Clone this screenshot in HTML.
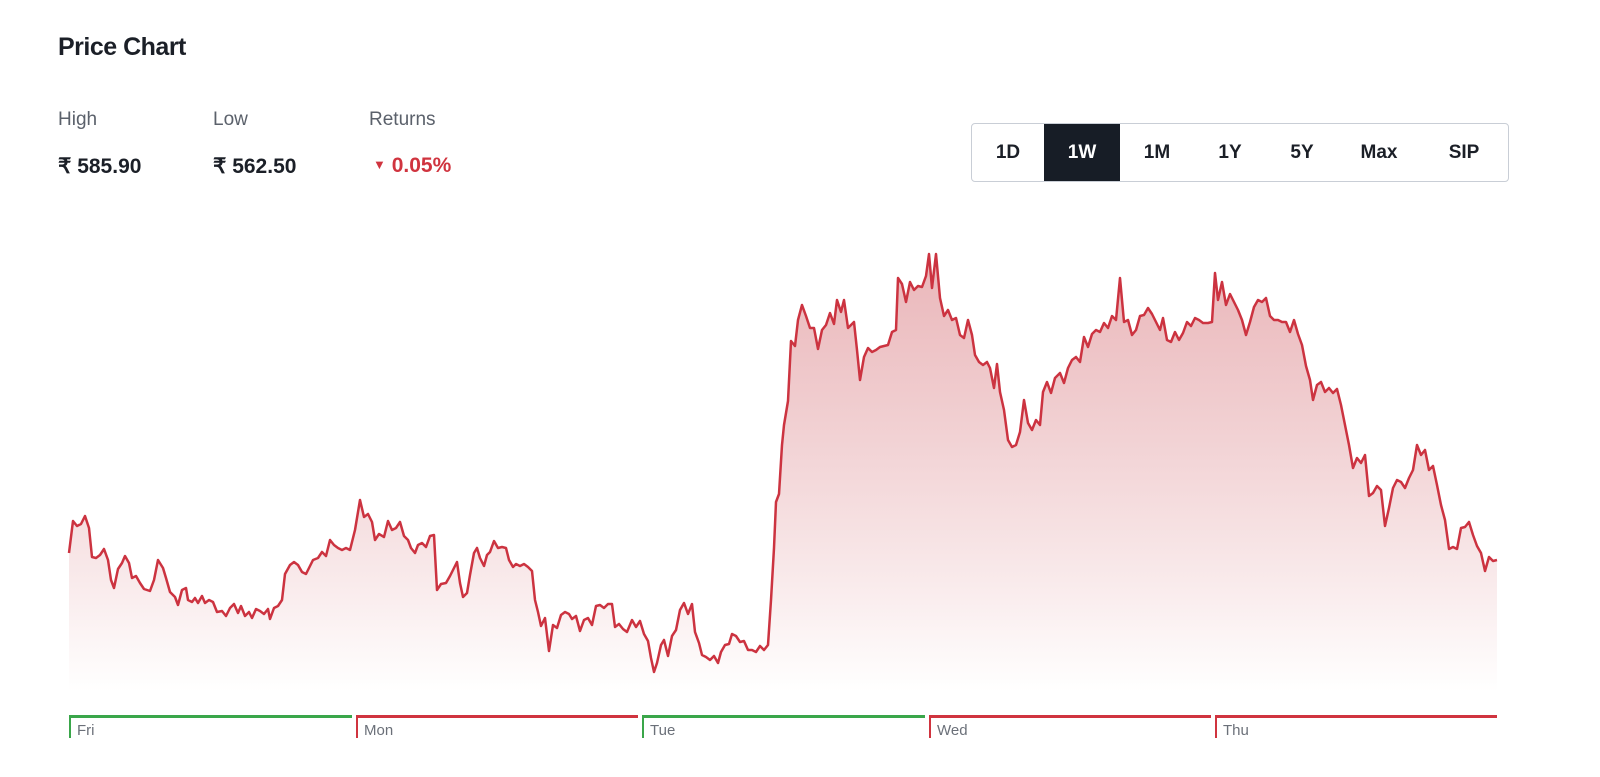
<!DOCTYPE html>
<html><head><meta charset="utf-8"><style>
body{margin:0;width:1600px;height:777px;background:#fff;font-family:"Liberation Sans",sans-serif;position:relative;overflow:hidden}
.t{position:absolute;white-space:nowrap}
.lbl{color:#5b616b;font-size:19px;top:109px}
.val{color:#1b1f27;font-size:21px;font-weight:bold;top:154px}
.btns{position:absolute;left:971px;top:123px;width:538px;height:59px;border:1px solid #c9ced6;border-radius:4px;box-sizing:border-box;display:flex}
.btns div{height:100%;display:flex;align-items:center;justify-content:center;font-size:19px;font-weight:bold;color:#1b1f27}
</style></head><body>
<div class="t" style="left:58px;top:33px;font-size:25px;font-weight:bold;color:#1b1f27;letter-spacing:-0.5px">Price Chart</div>
<div class="t lbl" style="left:58px">High</div>
<div class="t lbl" style="left:213px">Low</div>
<div class="t lbl" style="left:369px">Returns</div>
<div class="t val" style="left:58px">₹ 585.90</div>
<div class="t val" style="left:213px">₹ 562.50</div>
<div class="t val" style="left:373px;color:#d0343f"><span style="font-size:13px;position:relative;top:-3px">▼</span> 0.05%</div>
<div class="btns">
<div style="width:72px">1D</div>
<div style="width:76px;background:#171d26;color:#fff">1W</div>
<div style="width:74px">1M</div>
<div style="width:72px">1Y</div>
<div style="width:72px">5Y</div>
<div style="width:82px">Max</div>
<div style="width:88px">SIP</div>
</div>
<svg width="1600" height="777" style="position:absolute;left:0;top:0">
<defs><linearGradient id="g" x1="0" y1="250" x2="0" y2="692" gradientUnits="userSpaceOnUse">
<stop offset="0" stop-color="#e6a9ad" stop-opacity="0.85"/><stop offset="1" stop-color="#fff" stop-opacity="1"/></linearGradient></defs>
<path id="ln" fill="url(#g)" stroke="none" d=""/>
<polyline id="pl" fill="none" stroke="#cc3340" stroke-width="2.5" stroke-linejoin="round" points=""/>
<g>
<rect x="69" y="715" width="283" height="3" fill="#3aa64a"/><rect x="69" y="715" width="2" height="23" fill="#3aa64a"/>
<rect x="356" y="715" width="282" height="3" fill="#d0343f"/><rect x="356" y="715" width="2" height="23" fill="#d0343f"/>
<rect x="642" y="715" width="283" height="3" fill="#3aa64a"/><rect x="642" y="715" width="2" height="23" fill="#3aa64a"/>
<rect x="929" y="715" width="282" height="3" fill="#d0343f"/><rect x="929" y="715" width="2" height="23" fill="#d0343f"/>
<rect x="1215" y="715" width="282" height="3" fill="#d0343f"/><rect x="1215" y="715" width="2" height="23" fill="#d0343f"/>
</g>
<g font-family="Liberation Sans, sans-serif" font-size="15" fill="#6b7079">
<text x="77" y="735">Fri</text><text x="364" y="735">Mon</text><text x="650" y="735">Tue</text><text x="937" y="735">Wed</text><text x="1223" y="735">Thu</text>
</g>
</svg>
<script>
var p="69,553 73,521 77,526 81,524 85,516 89,528 92,557 96,558 100,555 104,549 108,560 111,580 114,588 118,569 122,563 125,556 129,563 132,578 136,576 140,583 144,589 150,591 154,580 158,560 163,568 166,578 170,592 175,597 178,605 182,590 186,588 188,600 192,602 195,598 198,603 202,596 205,603 209,600 213,602 217,612 222,611 226,616 230,608 234,604 238,613 241,606 245,616 249,612 252,618 256,609 260,611 264,614 268,609 270,619 274,608 278,606 282,600 285,574 290,565 294,562 298,565 302,572 306,574 310,566 313,560 318,558 322,552 326,556 330,540 334,545 338,548 342,550 346,548 350,550 355,530 360,500 364,517 368,514 372,522 375,540 379,534 384,537 388,521 392,530 396,528 400,522 404,536 408,540 411,548 415,553 418,545 422,543 426,547 430,536 434,535 437,590 441,584 446,583 450,576 454,568 457,562 460,583 463,597 467,593 470,575 474,553 477,548 480,558 484,566 487,555 490,552 494,541 498,548 502,547 506,548 509,560 513,567 516,564 520,566 524,564 528,567 532,571 535,600 538,612 541,626 545,618 549,651 553,625 557,628 561,615 565,612 569,614 572,619 576,616 580,631 584,620 588,618 592,625 596,606 600,605 604,608 608,604 612,604 615,627 619,624 623,629 627,632 632,620 636,627 640,621 644,634 648,641 651,658 654,672 657,663 661,645 664,640 668,656 672,636 676,630 680,610 684,603 688,614 692,604 695,632 699,643 702,655 706,657 710,660 714,656 718,663 721,652 725,645 729,644 732,634 736,636 740,642 744,641 748,650 752,650 756,652 760,646 764,650 768,645 771,600 774,548 776,502 779,494 782,445 784,425 788,401 791,341 795,346 798,320 802,305 806,316 810,328 814,328 818,349 822,330 826,325 830,313 834,324 837,300 841,312 844,300 848,328 851,325 854,322 857,350 860,380 864,357 868,348 872,352 876,350 880,347 884,346 888,345 892,332 896,330 898,278 902,284 906,302 910,282 914,290 918,286 922,287 926,276 929,254 932,288 936,254 940,298 944,316 948,310 952,320 956,318 960,335 964,338 968,320 972,335 975,355 979,362 983,365 987,362 990,368 994,388 997,364 1000,392 1004,410 1008,440 1012,447 1016,445 1020,432 1024,400 1028,423 1032,430 1036,420 1040,425 1043,392 1047,382 1051,393 1055,378 1060,373 1064,383 1068,368 1072,360 1076,357 1080,362 1084,337 1088,347 1092,334 1096,330 1100,332 1104,323 1108,328 1112,316 1116,320 1120,278 1124,322 1128,320 1132,335 1136,330 1140,316 1144,315 1148,308 1152,314 1156,322 1160,330 1163,318 1167,340 1171,342 1175,332 1179,340 1183,333 1187,322 1191,326 1195,318 1199,320 1203,323 1208,323 1212,322 1215,273 1218,300 1222,282 1226,305 1230,294 1234,302 1238,310 1242,320 1246,335 1250,322 1254,307 1258,300 1262,302 1266,298 1270,316 1274,320 1278,320 1282,322 1286,322 1290,332 1294,320 1298,334 1302,345 1306,366 1310,380 1313,400 1317,385 1321,382 1325,392 1329,388 1333,393 1337,389 1341,405 1345,425 1349,445 1353,468 1357,458 1361,463 1365,455 1369,496 1373,493 1377,486 1381,490 1385,526 1389,508 1393,488 1397,480 1401,482 1405,488 1409,478 1413,470 1417,445 1421,455 1425,450 1429,470 1433,466 1437,485 1441,505 1445,520 1449,549 1453,547 1457,549 1461,528 1465,527 1469,522 1473,535 1477,546 1481,553 1485,571 1489,557 1493,561 1497,560";
document.getElementById("pl").setAttribute("points",p);
document.getElementById("ln").setAttribute("d","M69,692 L"+p.split(" ").join(" L")+" L1497,692 Z");
</script>
</body></html>
